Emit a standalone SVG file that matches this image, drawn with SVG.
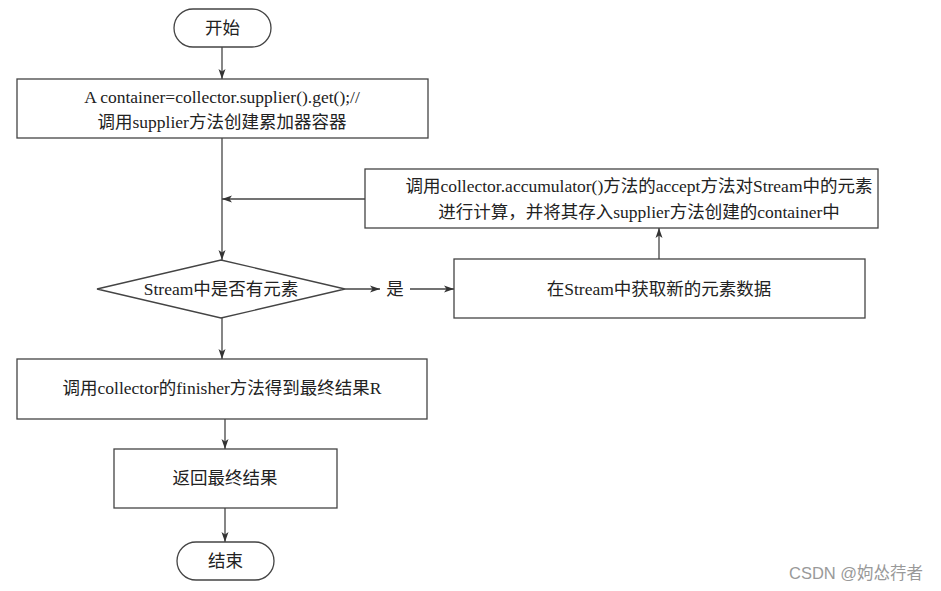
<svg xmlns="http://www.w3.org/2000/svg" width="941" height="591" viewBox="0 0 941 591">
<defs>
<marker id="ah" viewBox="0 0 10 10" refX="10" refY="5" markerWidth="10" markerHeight="10" markerUnits="userSpaceOnUse" orient="auto">
<path d="M0,1.5 L10,5 L0,8.5 L2.5,5 Z" fill="#333"/>
</marker>
<style>
.s{fill:#fff;stroke:#444;stroke-width:1.3}
.t{font-family:"Liberation Serif","Noto Sans CJK SC",serif;font-size:17.5px;fill:#222;text-anchor:middle;dominant-baseline:central}
.c{fill:none;stroke:#444;stroke-width:1.3;marker-end:url(#ah)}
.w{font-family:"Liberation Sans","Noto Sans CJK SC",sans-serif;font-size:16.5px;fill:#999}
</style>
</defs>
<rect width="941" height="591" fill="#fff"/>
<g id="connectors">
<path class="c" d="M222,47 V79"/>
<path class="c" d="M222,138 V260"/>
<path class="c" d="M365,199 H222"/>
<path class="c" d="M345,289 H380"/>
<path class="c" d="M410,289 H454"/>
<path class="c" d="M659,259 V228"/>
<path class="c" d="M222,318 V359"/>
<path class="c" d="M225,419 V449"/>
<path class="c" d="M225,508 V542"/>
<text class="t" x="395" y="289">是</text>
</g>
<g id="start">
<rect class="s" x="174" y="9" width="97" height="38" rx="19"/>
<text class="t" x="222.5" y="28">开始</text>
</g>
<g id="init">
<rect class="s" x="17" y="79" width="411" height="59"/>
<text class="t" x="222" y="97">A container=collector.supplier().get();//</text>
<text class="t" x="222" y="122">调用supplier方法创建累加器容器</text>
</g>
<g id="accumulate">
<rect class="s" x="365" y="169" width="513" height="59"/>
<text class="t" x="639" y="186">调用collector.accumulator()方法的accept方法对Stream中的元素</text>
<text class="t" x="639" y="212">进行计算，并将其存入supplier方法创建的container中</text>
</g>
<g id="decision">
<polygon class="s" points="97,289 221,260 345,289 221,318"/>
<text class="t" x="221" y="289">Stream中是否有元素</text>
</g>
<g id="fetch">
<rect class="s" x="454" y="259" width="411" height="59"/>
<text class="t" x="659" y="289">在Stream中获取新的元素数据</text>
</g>
<g id="finish">
<rect class="s" x="17" y="359" width="410" height="60"/>
<text class="t" x="222" y="388">调用collector的finisher方法得到最终结果R</text>
</g>
<g id="return">
<rect class="s" x="114" y="449" width="223" height="59"/>
<text class="t" x="225" y="478">返回最终结果</text>
</g>
<g id="end">
<rect class="s" x="177" y="542" width="97" height="38" rx="19"/>
<text class="t" x="225.5" y="561">结束</text>
</g>
<text class="w" x="789" y="579">CSDN @姁怂荇者</text>
</svg>
